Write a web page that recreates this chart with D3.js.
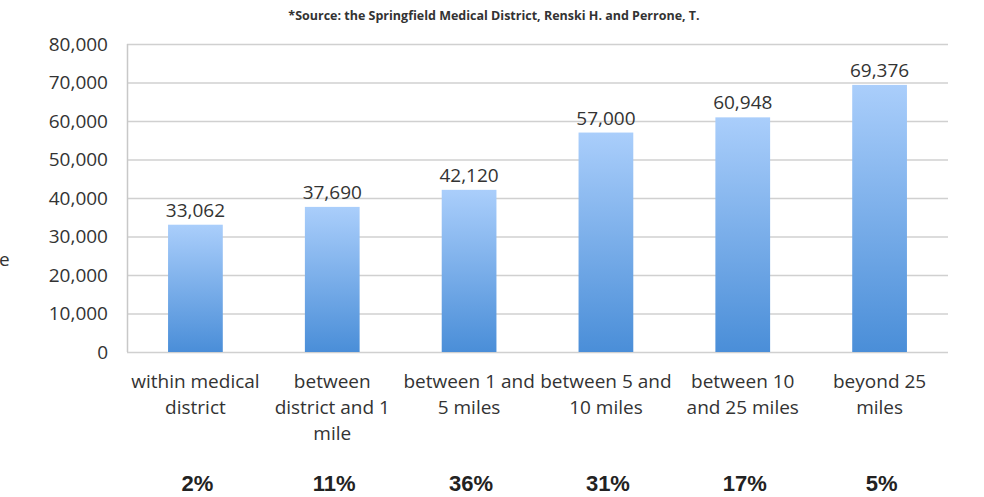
<!DOCTYPE html>
<html>
<head>
<meta charset="utf-8">
<script src="https://cdn.jsdelivr.net/npm/d3@7"></script>
<style>
  body { margin: 0; background: #fff; }
  svg { display: block; }
</style>
</head>
<body>
<div id="chart"></div>
<script>
var categories = [
    ["within medical", "district"],
    ["between", "district and 1", "mile"],
    ["between 1 and", "5 miles"],
    ["between 5 and", "10 miles"],
    ["between 10", "and 25 miles"],
    ["beyond 25", "miles"]
];
var values = [33062, 37690, 42120, 57000, 60948, 69376];
var shares = ["2%", "11%", "36%", "31%", "17%", "5%"];
var yTicks = [0, 10000, 20000, 30000, 40000, 50000, 60000, 70000, 80000];

var W = 984, H = 497;
var margin = { top: 44, right: 36, bottom: 145, left: 127 },
    width = W - margin.left - margin.right,
    height = H - margin.top - margin.bottom;

var font = "'Open Sans', sans-serif";

var svg = d3.select("#chart")
    .append("svg")
    .attr("width", W)
    .attr("height", H);

var grad = svg.append("defs").append("linearGradient")
    .attr("id", "barGrad")
    .attr("x1", 0).attr("y1", 0).attr("x2", 0).attr("y2", 1);
grad.append("stop").attr("offset", "0%").attr("stop-color", "#aacefb");
grad.append("stop").attr("offset", "100%").attr("stop-color", "#4a8ed8");

// source note
svg.append("text")
    .attr("x", 494)
    .attr("y", 20)
    .attr("text-anchor", "middle")
    .attr("font-family", font)
    .attr("font-size", 12.5)
    .attr("font-weight", "bold")
    .attr("fill", "#333")
    .text("*Source: the Springfield Medical District, Renski H. and Perrone, T.");

// cut-off axis title fragment
svg.append("text")
    .attr("x", -1)
    .attr("y", 266)
    .attr("font-family", font)
    .attr("font-size", 19)
    .attr("fill", "#333")
    .text("e");

var chart = svg.append("g")
    .attr("transform", "translate(" + margin.left + "," + margin.top + ")");

var x = d3.scaleBand()
    .domain(d3.range(categories.length))
    .range([0, width])
    .padding(0);

var y = d3.scaleLinear()
    .domain([0, 80000])
    .range([height, 0]);

// gridlines
chart.selectAll(".grid")
    .data(yTicks)
    .enter()
    .append("line")
    .attr("x1", 0)
    .attr("x2", width)
    .attr("y1", function (d) { return y(d) + 0.5; })
    .attr("y2", function (d) { return y(d) + 0.5; })
    .attr("stroke", "#d0d0d0")
    .attr("stroke-width", 1.5);

chart.append("line")
    .attr("x1", 0.5).attr("x2", 0.5)
    .attr("y1", 0).attr("y2", height)
    .attr("stroke", "#c8c8c8")
    .attr("stroke-width", 1.5);

// y axis labels
var yAxis = d3.axisLeft(y)
    .tickValues(yTicks)
    .tickSize(0)
    .tickPadding(19)
    .tickFormat(d3.format(","));

var gy = chart.append("g").call(yAxis);
gy.select(".domain").remove();
gy.selectAll("text")
    .attr("font-family", font)
    .attr("font-size", 19)
    .attr("fill", "#333");

var bw = x.bandwidth() * 0.4;

chart.selectAll(".bar")
    .data(values)
    .enter()
    .append("rect")
    .attr("x", function (d, i) { return x(i) + (x.bandwidth() - bw) / 2; })
    .attr("y", function (d) { return y(d); })
    .attr("width", bw)
    .attr("height", function (d) { return height - y(d); })
    .attr("fill", "url(#barGrad)");

chart.selectAll(".vlabel")
    .data(values)
    .enter()
    .append("text")
    .attr("x", function (d, i) { return x(i) + x.bandwidth() / 2; })
    .attr("y", function (d) { return y(d) - 8; })
    .attr("text-anchor", "middle")
    .attr("font-family", font)
    .attr("font-size", 19)
    .attr("fill", "#333")
    .text(function (d) { return d3.format(",")(d); });

// category labels
var cat = chart.selectAll(".cat")
    .data(categories)
    .enter()
    .append("text")
    .attr("text-anchor", "middle")
    .attr("font-family", font)
    .attr("font-size", 19)
    .attr("fill", "#333")
    .attr("transform", function (d, i) {
        return "translate(" + (x(i) + x.bandwidth() / 2) + "," + (height + 36) + ")";
    });
cat.selectAll("tspan")
    .data(function (d) { return d; })
    .enter()
    .append("tspan")
    .attr("x", 0)
    .attr("y", function (d, j) { return j * 26; })
    .text(function (d) { return d; });

// share row
chart.selectAll(".share")
    .data(shares)
    .enter()
    .append("text")
    .attr("x", function (d, i) { return x(i) + x.bandwidth() / 2 + 2; })
    .attr("y", height + 139)
    .attr("text-anchor", "middle")
    .attr("font-family", "'Liberation Sans Narrow', 'Liberation Sans', Arial, sans-serif")
    .attr("font-size", 22)
    .attr("font-weight", "bold")
    .attr("fill", "#222")
    .text(function (d) { return d; });
</script>
</body>
</html>
